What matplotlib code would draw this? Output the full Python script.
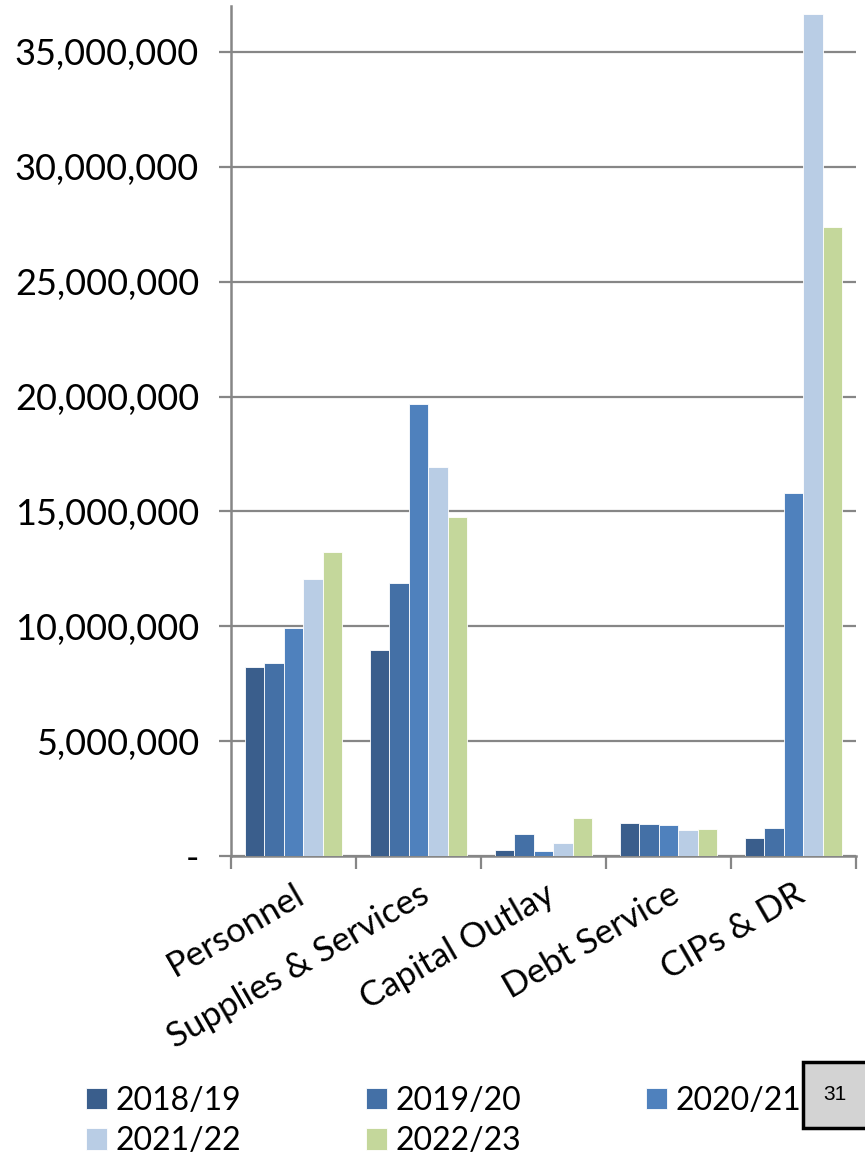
import matplotlib.pyplot as plt
import matplotlib.patches as mpatches
from matplotlib.ticker import FuncFormatter
import numpy as np

categories = ['Personnel', 'Supplies & Services', 'Capital Outlay', 'Debt Service', 'CIPs & DR']
years = ['2018/19', '2019/20', '2020/21', '2021/22', '2022/23']

fy2018_19 = [8240000, 8950000, 260000, 1420000, 770000]
fy2019_20 = [8410000, 11870000, 940000, 1410000, 1220000]
fy2020_21 = [9910000, 19660000, 230000, 1350000, 15790000]
fy2021_22 = [12040000, 16920000, 570000, 1130000, 36650000]
fy2022_23 = [13230000, 14770000, 1640000, 1160000, 27390000]

series = [fy2018_19, fy2019_20, fy2020_21, fy2021_22, fy2022_23]
colors = ['#3A5E8C', '#4470A6', '#4F81BD', '#B9CDE5', '#C4D79B']

plt.rcParams['font.family'] = ['Lato', 'DejaVu Sans']

fig = plt.figure(figsize=(8.65, 11.64), dpi=100)
ax = fig.add_axes([231 / 865, 1 - 856 / 1164, 625 / 865, 850 / 1164])

x = np.arange(len(categories))
bar_w = 0.156
handles = []
for i, (vals, col, yr) in enumerate(zip(series, colors, years)):
    b = ax.bar(x + (i - 2) * bar_w, vals, width=bar_w, color=col, label=yr,
               edgecolor='#FFFFFF', linewidth=0.6, zorder=3)
    handles.append(b)

ax.set_xlim(-0.5, len(categories) - 0.5)
ax.set_ylim(0, 37000000)
ax.set_yticks(np.arange(0, 35000001, 5000000))
ax.yaxis.set_major_formatter(FuncFormatter(lambda v, p: '-' if v == 0 else f'{int(v):,}'))
ax.grid(axis='y', color='#868686', linewidth=1.6, zorder=0)

# category ticks at the boundaries, labels in the middle
ax.set_xticks(np.arange(-0.5, len(categories)), minor=False)
ax.set_xticklabels([])
ax.set_xticks(x, minor=True)
ax.set_xticklabels(categories, minor=True, rotation=30, ha='right',
                   rotation_mode='anchor', fontsize=25)
ax.tick_params(axis='x', which='minor', length=0, pad=16)
ax.tick_params(axis='x', which='major', length=9, width=1.6, color='#868686')
ax.tick_params(axis='y', length=9, width=1.6, color='#868686', labelsize=26, pad=14)

for side in ['top', 'right']:
    ax.spines[side].set_visible(False)
for side in ['left', 'bottom']:
    ax.spines[side].set_color('#868686')
    ax.spines[side].set_linewidth(1.8)

# legend filled row by row like the original
order = [0, 3, 1, 4, 2]
fig.legend([handles[k] for k in order], [years[k] for k in order],
           loc='upper left', bbox_to_anchor=(86 / 865, 1 - 1086 / 1164), ncol=3,
           frameon=False, fontsize=23,
           handlelength=0.65, handleheight=0.65, handletextpad=0.28,
           columnspacing=3.9, labelspacing=0.32, borderpad=0, borderaxespad=0)

# page number box
fig.patches.append(mpatches.Rectangle((803 / 865, 1 - 1128 / 1164), 70 / 865, 66 / 1164,
                                      transform=fig.transFigure, facecolor='#D3D3D3',
                                      edgecolor='black', linewidth=2.5, clip_on=False))
fig.text(835 / 865, 1 - 1095 / 1164, '31', ha='center', va='center', fontsize=15,
         family='Liberation Sans')

plt.savefig('out.png', dpi=100)
